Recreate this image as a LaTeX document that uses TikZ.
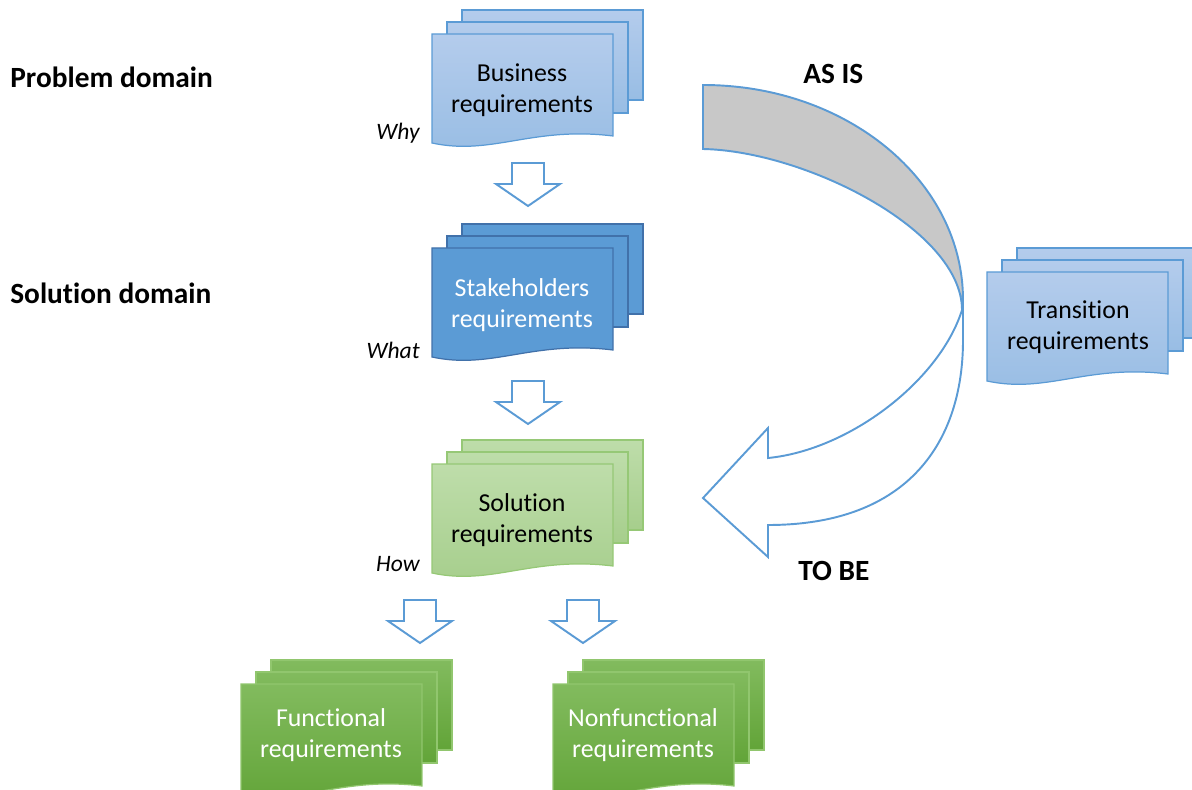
\documentclass[tikz,border=0pt]{standalone}
\usepackage{fontspec}
\setmainfont{Carlito}[Ligatures=NoCommon]
\usepackage{xcolor}
\definecolor{docblue}{RGB}{91,155,213}
\definecolor{docbluedark}{RGB}{65,113,170}
\definecolor{lightbluetop}{RGB}{180,204,236}
\definecolor{lightbluebot}{RGB}{152,189,228}
\definecolor{lightgreentop}{RGB}{190,221,170}
\definecolor{lightgreenbot}{RGB}{166,206,140}
\definecolor{lightgreenline}{RGB}{150,200,118}
\definecolor{greentop}{RGB}{130,187,94}
\definecolor{greenbot}{RGB}{98,164,56}
\definecolor{greenline}{RGB}{145,198,110}
\definecolor{arrowgray}{RGB}{200,200,200}

\tikzset{
  pics/docstack/.style={code={
    \path[#1] (30,-24) rectangle (211,66);
    \path[#1] (15,-12) rectangle (196,79);
    \path[#1] (0,0) -- (181,0) -- (181,102) .. controls (100,92) and (60,122) .. (0,109) -- cycle;
  }},
  pics/downarrow/.style={code={
    \draw[hollow] (-16,0) -- (16,0) -- (16,21) -- (32,21) -- (0,43) -- (-32,21) -- (-16,21) -- cycle;
  }}
}

\begin{document}
\begin{tikzpicture}[x=0.02cm, y=-0.02cm,
  page/.style={line width=0.7pt, line join=miter},
  bluedoc/.style={page, draw=docblue, top color=lightbluetop, bottom color=lightbluebot},
  darkdoc/.style={page, draw=docbluedark, fill=docblue},
  palegreendoc/.style={page, draw=lightgreenline, top color=lightgreentop, bottom color=lightgreenbot},
  greendoc/.style={page, draw=greenline, top color=greentop, bottom color=greenbot},
  hollow/.style={draw=docblue, line width=1.1pt, fill=white, line join=miter},
  doctext/.style={align=center, font=\fontsize{14.7}{17.8}\selectfont},
  domainlabel/.style={anchor=base west, inner sep=0pt, font=\fontsize{16.7}{20}\selectfont\bfseries},
  asklabel/.style={anchor=base east, inner sep=0pt, font=\fontsize{13.4}{16}\selectfont\itshape}]

\useasboundingbox (0,0) rectangle (1192,790);
\clip (0,0) rectangle (1192,790);

\pic at (432,34) {docstack=bluedoc};
\pic at (432,248) {docstack=darkdoc};
\pic at (432,464) {docstack=palegreendoc};
\pic at (987,272) {docstack=bluedoc};
\pic at (241,684) {docstack=greendoc};
\pic at (553,684) {docstack=greendoc};

\node[doctext] (business) at (522,90) {Business\\requirements};
\node[doctext, text=white] (stakeholders) at (522,305) {Stakeholders\\requirements};
\node[doctext] (solution) at (522,520) {Solution\\requirements};
\node[doctext] (transition) at (1078,327) {Transition\\requirements};
\node[doctext, text=white] (functional) at (331,735) {Functional\\requirements};
\node[doctext, text=white] (nonfunctional) at (643,735) {Nonfunctional\\requirements};

\node[asklabel] (why) at (420,140) {Why};
\node[asklabel] (what) at (420,358) {What};
\node[asklabel] (how) at (420,571) {How};

\node[domainlabel] (problem) at (10,88) {Problem domain};
\node[domainlabel] (soldomain) at (10,303) {Solution domain};
\node[domainlabel] (asis) at (803,84) {AS IS};
\node[domainlabel] (tobe) at (798,580) {TO BE};

\pic (arrowA) at (528,163) {downarrow};
\pic (arrowB) at (528,381) {downarrow};
\pic (arrowC) at (420,600) {downarrow};
\pic (arrowD) at (583,600) {downarrow};

% curved arrow, AS IS -> TO BE
\path[fill=arrowgray, draw=docblue, line width=1.1pt]
  (703,85) .. controls (847,85) and (963,181) .. (963,300)
  -- (962,310) .. controls (962,230) and (805,151) .. (703,149) -- cycle;
\draw[docblue, line width=1.1pt, line join=miter]
  (963,300) -- (963,340) .. controls (963,440) and (910,525) .. (768,525)
  -- (768,557) -- (703,498) -- (768,428) -- (768,458)
  .. controls (850,450) and (940,380) .. (962,310);
\end{tikzpicture}
\end{document}
